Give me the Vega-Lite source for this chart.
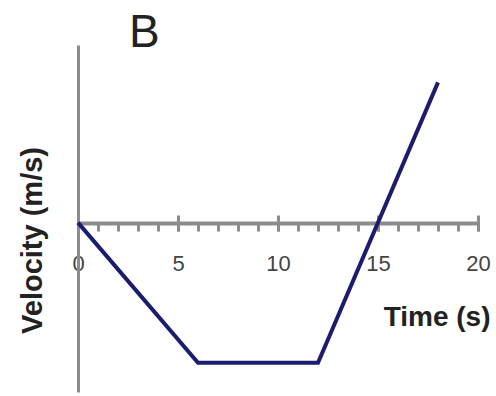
{
  "$schema": "https://vega.github.io/schema/vega-lite/v6.json",
  "width": 400,
  "height": 347,
  "autosize": "none",
  "padding": {"left": 78, "top": 45, "right": 18, "bottom": 4},
  "background": "white",
  "title": {"text": "B", "anchor": "start", "frame": "group", "dx": 51, "offset": 0, "font": "Liberation Sans, Arial", "fontSize": 46, "fontWeight": "normal", "color": "#222222", "baseline": "alphabetic", "dy": 48},
  "data": {"values": [
    {"t": 0, "v": 0},
    {"t": 6, "v": -6},
    {"t": 12, "v": -6},
    {"t": 18, "v": 6}
  ]},
  "config": {"view": {"stroke": null}},
  "resolve": {"axis": {"x": "independent"}, "scale": {"x": "shared", "y": "shared"}},
  "layer": [
    {
      "mark": {"type": "line", "opacity": 0},
      "encoding": {
        "x": {"field": "t", "type": "quantitative", "scale": {"domain": [0, 20], "nice": false},
          "axis": {"orient": "bottom", "offset": -177, "values": [0, 5, 10, 15, 20], "tickSize": 16, "tickWidth": 3, "tickColor": "#8c8c8c", "domain": false, "labels": false, "grid": false, "title": null}},
        "y": {"field": "v", "type": "quantitative", "scale": {"domain": [-7.25, 7.6], "nice": false, "zero": false},
          "axis": {"orient": "left", "domain": true, "domainColor": "#8c8c8c", "domainWidth": 3, "ticks": false, "labels": false, "grid": false,
            "title": "Velocity (m/s)", "titleFont": "Liberation Sans, Arial", "titleFontSize": 29, "titleFontWeight": "bold", "titleColor": "#222222", "titleX": -46, "titleY": 195, "titleBaseline": "middle", "titleAnchor": null, "titleAngle": -90}}
      }
    },
    {
      "mark": {"type": "line", "opacity": 0},
      "encoding": {
        "x": {"field": "t", "type": "quantitative",
          "axis": {"orient": "bottom", "offset": -169, "values": [0, 5, 10, 15, 20], "ticks": false, "domain": false, "grid": false, "labelPadding": 40, "labelFlush": false, "labelFont": "Liberation Sans, Arial", "labelFontSize": 22, "labelColor": "#444444", "labelBaseline": "middle",
            "title": "Time (s)", "titleFont": "Liberation Sans, Arial", "titleFontSize": 28, "titleFontWeight": "bold", "titleColor": "#222222", "titleAnchor": "end", "titleX": 412, "titleY": 94, "titleBaseline": "middle", "titleAlign": "right"}},
        "y": {"field": "v", "type": "quantitative"}
      }
    },
    {
      "mark": {"type": "line", "color": "#1c1c6e", "strokeWidth": 4},
      "encoding": {
        "x": {"field": "t", "type": "quantitative",
          "axis": {"orient": "bottom", "offset": -169, "values": [0,1,2,3,4,5,6,7,8,9,10,11,12,13,14,15,16,17,18,19,20], "tickSize": 8, "tickWidth": 3, "tickColor": "#8c8c8c", "domainColor": "#8c8c8c", "domainWidth": 4, "labels": false, "grid": false, "title": null}},
        "y": {"field": "v", "type": "quantitative"}
      }
    }
  ]
}
